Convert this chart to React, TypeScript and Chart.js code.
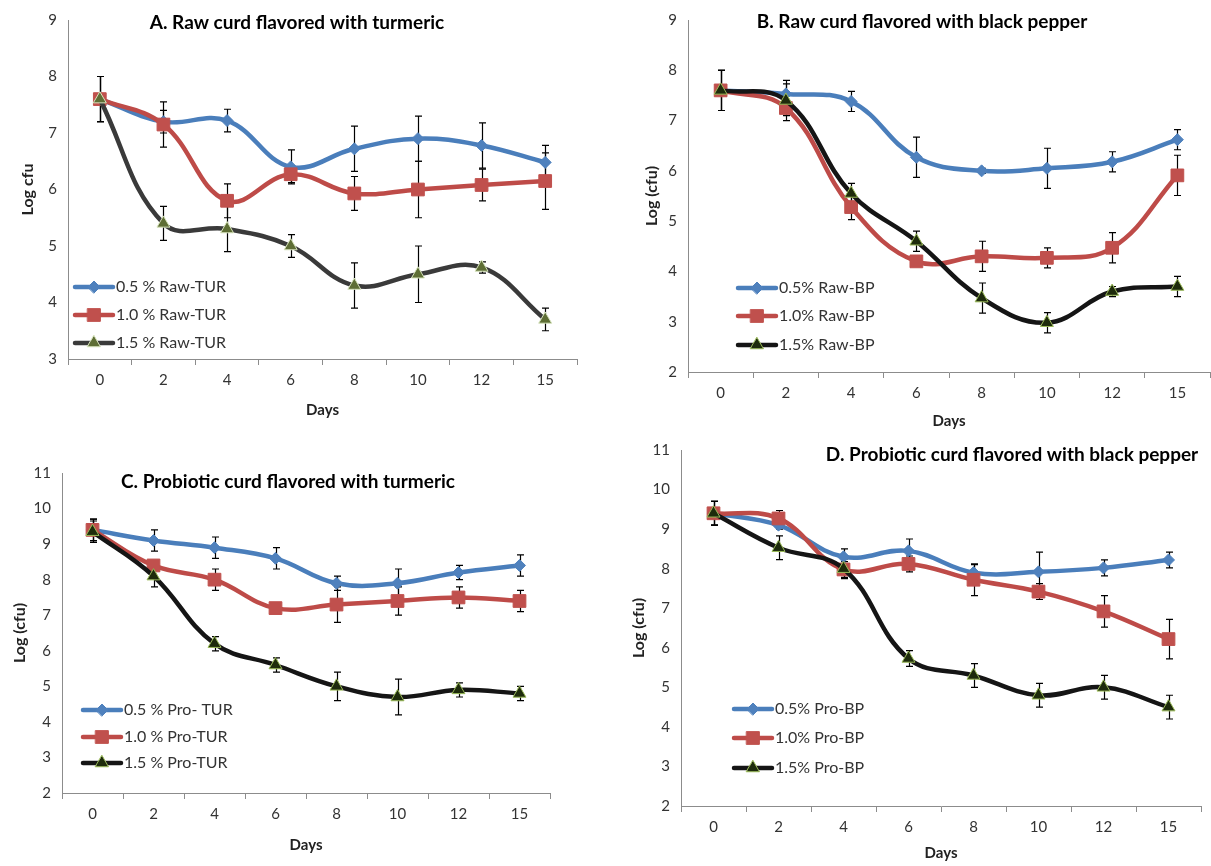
import React, { useEffect, useRef } from 'react';
import { Chart, registerables } from 'chart.js';
import { drawPoint } from 'chart.js/helpers';

Chart.register(...registerables);

// ---------- data ----------
const days = ['0', '2', '4', '6', '8', '10', '12', '15'];

// A. Raw curd flavored with turmeric
const rawTur05 = [7.6, 7.2, 7.22, 6.4, 6.72, 6.9, 6.78, 6.48];
const rawTur05Err = [0.4, 0.2, 0.2, 0.3, 0.4, 0.4, 0.4, 0.3];
const rawTur10 = [7.6, 7.15, 5.8, 6.27, 5.93, 6.0, 6.08, 6.15];
const rawTur10Err = [0.4, 0.4, 0.3, 0.15, 0.3, 0.5, 0.28, 0.5];
const rawTur15 = [7.6, 5.4, 5.3, 5.0, 4.3, 4.5, 4.62, 3.7];
const rawTur15Err = [0.4, 0.3, 0.4, 0.2, 0.4, 0.5, 0.1, 0.2];

// B. Raw curd flavored with black pepper
const rawBp05 = [7.6, 7.53, 7.38, 6.27, 6.0, 6.05, 6.18, 6.62];
const rawBp05Err = [0.4, 0.2, 0.2, 0.4, 0.05, 0.4, 0.2, 0.2];
const rawBp10 = [7.6, 7.25, 5.28, 4.2, 4.3, 4.27, 4.47, 5.91];
const rawBp10Err = [0.4, 0.15, 0.25, 0.05, 0.3, 0.2, 0.3, 0.4];
const rawBp15 = [7.6, 7.4, 5.55, 4.6, 3.47, 2.98, 3.6, 3.7];
const rawBp15Err = [0.4, 0.4, 0.2, 0.2, 0.3, 0.2, 0.1, 0.2];

// C. Probiotic curd flavored with turmeric
const proTur05 = [9.4, 9.1, 8.9, 8.6, 7.9, 7.9, 8.2, 8.4];
const proTur05Err = [0.3, 0.3, 0.3, 0.3, 0.2, 0.4, 0.2, 0.3];
const proTur10 = [9.4, 8.4, 8.0, 7.2, 7.3, 7.4, 7.5, 7.4];
const proTur10Err = [0.3, 0.1, 0.3, 0.05, 0.5, 0.4, 0.3, 0.3];
const proTur15 = [9.35, 8.1, 6.2, 5.6, 5.0, 4.7, 4.9, 4.8];
const proTur15Err = [0.3, 0.3, 0.2, 0.2, 0.4, 0.5, 0.2, 0.2];

// D. Probiotic curd flavored with black pepper
const proBp05 = [9.4, 9.1, 8.3, 8.45, 7.9, 7.92, 8.02, 8.22];
const proBp05Err = [0.3, 0.1, 0.2, 0.3, 0.2, 0.5, 0.2, 0.2];
const proBp10 = [9.4, 9.27, 7.98, 8.12, 7.72, 7.42, 6.92, 6.22];
const proBp10Err = [0.3, 0.2, 0.2, 0.2, 0.4, 0.2, 0.4, 0.5];
const proBp15 = [9.4, 8.53, 8.0, 5.73, 5.3, 4.8, 5.0, 4.5];
const proBp15Err = [0.3, 0.3, 0.25, 0.2, 0.3, 0.3, 0.3, 0.3];

const labelsA = ['0.5 % Raw-TUR', '1.0 % Raw-TUR', '1.5 % Raw-TUR'];
const labelsB = ['0.5% Raw-BP', '1.0% Raw-BP', '1.5% Raw-BP'];
const labelsC = ['0.5 % Pro- TUR', '1.0 % Pro-TUR', '1.5 % Pro-TUR'];
const labelsD = ['0.5% Pro-BP', '1.0% Pro-BP', '1.5% Pro-BP'];

// ---------- styling ----------
const FONT = 'Lato, "Open Sans", sans-serif';
const AXIS = '#8c8c8c';
const TXT = '#333333';
const BLUE_LINE = '#4A7EBB';
const BLUE_PT = '#4F81BD';
const RED_LINE = '#BE4B48';
const RED_PT = '#C0504D';

type Panel = {
  left: number; top: number; width: number; height: number;
  area: { l: number; r: number; t: number; b: number };
  yMin: number; yMax: number;
  title: string; titleX: number; titleY: number;
  yTitle: string; yTitlePad: number; xTitlePad: number;
  labels: string[]; legendX: number; legendY: number[];
  series: number[][]; errors: number[][];
  dark: string; triFill: string; triBorder: string;
};

const panels: Panel[] = [
  {
    left: 0, top: 0, width: 600, height: 430,
    area: { l: 68, r: 577, t: 17, b: 359 }, yMin: 3, yMax: 9,
    title: 'A. Raw curd flavored with turmeric', titleX: 297, titleY: 23,
    yTitle: 'Log cfu', yTitlePad: 18, xTitlePad: 11,
    labels: labelsA, legendX: 75, legendY: [287, 315, 343],
    series: [rawTur05, rawTur10, rawTur15], errors: [rawTur05Err, rawTur10Err, rawTur15Err],
    dark: '#3a3a3a', triFill: '#5E6E35', triBorder: '#D7E4BD',
  },
  {
    left: 600, top: 0, width: 620, height: 430,
    area: { l: 88, r: 616, t: 15, b: 372 }, yMin: 2, yMax: 9,
    title: 'B. Raw curd flavored with black pepper', titleX: 322, titleY: 22,
    yTitle: 'Log (cfu)', yTitlePad: 42, xTitlePad: 0,
    labels: labelsB, legendX: 138, legendY: [288, 316, 345],
    series: [rawBp05, rawBp10, rawBp15], errors: [rawBp05Err, rawBp10Err, rawBp15Err],
    dark: '#151515', triFill: '#1E2B0C', triBorder: '#9BBB59',
  },
  {
    left: 0, top: 430, width: 600, height: 436,
    area: { l: 62, r: 550, t: 43, b: 363 }, yMin: 2, yMax: 11,
    title: 'C. Probiotic curd flavored with turmeric', titleX: 288, titleY: 52,
    yTitle: 'Log (cfu)', yTitlePad: 10, xTitlePad: 12,
    labels: labelsC, legendX: 83, legendY: [280, 307, 333],
    series: [proTur05, proTur10, proTur15], errors: [proTur05Err, proTur10Err, proTur15Err],
    dark: '#151515', triFill: '#1E2B0C', triBorder: '#9BBB59',
  },
  {
    left: 600, top: 430, width: 611, height: 436,
    area: { l: 81, r: 609, t: 18, b: 376 }, yMin: 2, yMax: 11,
    title: 'D. Probiotic curd flavored with black pepper', titleX: 412, titleY: 25,
    yTitle: 'Log (cfu)', yTitlePad: 29, xTitlePad: 4,
    labels: labelsD, legendX: 134, legendY: [279, 308, 338],
    series: [proBp05, proBp10, proBp15], errors: [proBp05Err, proBp10Err, proBp15Err],
    dark: '#151515', triFill: '#1E2B0C', triBorder: '#9BBB59',
  },
];

function PanelChart({ p }: { p: Panel }) {
  const ref = useRef<HTMLCanvasElement>(null);

  useEffect(() => {
    const lineColors = [BLUE_LINE, RED_LINE, p.dark];
    const ptFill = [BLUE_PT, RED_PT, p.triFill];
    const ptBorder = [BLUE_PT, RED_PT, p.triBorder];
    const ptStyle = ['rectRot', 'rect', 'triangle'];
    const ptRadius = [6, 9, 7.5];
    const ptBorderW = [1, 1, 1];

    const errorBars = {
      id: 'errorBars',
      beforeDatasetsDraw(chart: any) {
        const ctx = chart.ctx;
        const ys = chart.scales.y;
        ctx.save();
        ctx.strokeStyle = '#000';
        ctx.lineWidth = 1.2;
        p.series.forEach((vals, di) => {
          const meta = chart.getDatasetMeta(di);
          meta.data.forEach((pt: any, i: number) => {
            const e = p.errors[di][i];
            if (!e) return;
            const y1 = ys.getPixelForValue(vals[i] + e);
            const y2 = ys.getPixelForValue(vals[i] - e);
            const x = Math.round(pt.x) + 0.5;
            ctx.beginPath();
            ctx.moveTo(x, y1); ctx.lineTo(x, y2);
            ctx.moveTo(x - 3.5, y1); ctx.lineTo(x + 3.5, y1);
            ctx.moveTo(x - 3.5, y2); ctx.lineTo(x + 3.5, y2);
            ctx.stroke();
          });
        });
        ctx.restore();
      },
    };

    const titleAndLegend = {
      id: 'titleAndLegend',
      afterDraw(chart: any) {
        const ctx = chart.ctx;
        ctx.save();
        ctx.fillStyle = '#000';
        ctx.font = `bold 19px ${FONT}`;
        ctx.textAlign = 'center';
        ctx.textBaseline = 'middle';
        ctx.fillText(p.title, p.titleX, p.titleY);

        p.labels.forEach((lab, i) => {
          const y = p.legendY[i];
          const x0 = p.legendX;
          ctx.strokeStyle = lineColors[i];
          ctx.lineWidth = 4.5;
          ctx.lineCap = 'round';
          ctx.beginPath();
          ctx.moveTo(x0, y); ctx.lineTo(x0 + 38, y);
          ctx.stroke();
          ctx.fillStyle = ptFill[i];
          ctx.strokeStyle = ptBorder[i];
          ctx.lineWidth = ptBorderW[i];
          drawPoint(ctx, { pointStyle: ptStyle[i], radius: ptRadius[i], borderWidth: ptBorderW[i], rotation: 0 } as any, x0 + 19, y);
          ctx.fillStyle = TXT;
          ctx.font = `16px ${FONT}`;
          ctx.textAlign = 'left';
          ctx.textBaseline = 'middle';
          ctx.fillText(lab, x0 + 41, y);
        });
        ctx.restore();
      },
    };

    const W = p.width, H = p.height, A = p.area;
    const chart = new Chart(ref.current as HTMLCanvasElement, {
      type: 'line',
      data: {
        labels: days,
        datasets: p.series.map((vals, i) => ({
          label: p.labels[i],
          data: vals,
          borderColor: lineColors[i],
          backgroundColor: ptFill[i],
          borderWidth: 4.5,
          tension: 0.4,
          fill: false,
          pointStyle: ptStyle[i] as any,
          pointRadius: ptRadius[i],
          pointBackgroundColor: ptFill[i],
          pointBorderColor: ptBorder[i],
          pointBorderWidth: ptBorderW[i],
          order: 3 - i,
        })),
      },
      options: {
        responsive: false,
        animation: false,
        events: [],
        layout: { padding: { left: 0, top: A.t, right: W - A.r, bottom: 0 } },
        plugins: { legend: { display: false }, tooltip: { enabled: false }, title: { display: false } },
        scales: {
          x: {
            type: 'category',
            offset: true,
            grid: { display: true, offset: true, drawOnChartArea: false, drawTicks: true, tickLength: 6, color: AXIS },
            border: { display: true, color: AXIS, width: 1 },
            ticks: { color: TXT, font: { family: FONT, size: 15 }, padding: 6, maxRotation: 0, autoSkip: false },
            title: { display: true, text: 'Days', color: '#222', font: { family: FONT, size: 15, weight: 'bold' }, padding: { top: 0, bottom: p.xTitlePad } },
            afterFit: (s: any) => { s.height = H - A.b; },
          },
          y: {
            min: p.yMin,
            max: p.yMax,
            grid: { display: false, drawTicks: false },
            border: { display: true, color: AXIS, width: 1 },
            ticks: { stepSize: 1, color: TXT, font: { family: FONT, size: 15 }, padding: 11 },
            title: { display: true, text: p.yTitle, color: '#222', font: { family: FONT, size: 16, weight: 'bold' }, padding: { top: p.yTitlePad, bottom: 0 } },
            afterFit: (s: any) => { s.width = A.l; },
          },
        },
      } as any,
      plugins: [errorBars, titleAndLegend],
    });
    return () => chart.destroy();
  }, []);

  return (
    <canvas
      ref={ref}
      width={p.width}
      height={p.height}
      style={{ position: 'absolute', left: p.left, top: p.top, width: p.width, height: p.height }}
    />
  );
}

export default function App() {
  return (
    <div style={{ position: 'absolute', left: 0, top: 0, width: 1211, height: 866, overflow: 'hidden', background: '#fff' }}>
      {panels.map((p, i) => (
        <PanelChart key={i} p={p} />
      ))}
    </div>
  );
}
